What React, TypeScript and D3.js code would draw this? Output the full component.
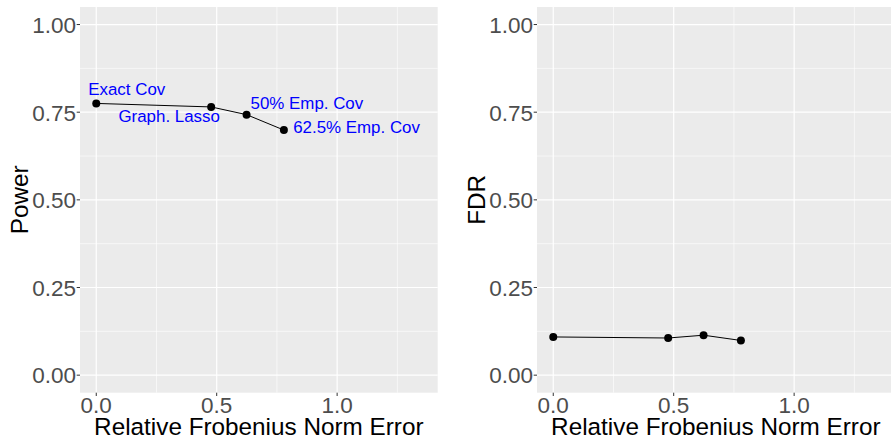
import React from "react";
import * as d3 from "d3";

const methods = ["Exact Cov", "Graph. Lasso", "50% Emp. Cov", "62.5% Emp. Cov"];
const frobError = [0, 0.477, 0.624, 0.779];
const power = [0.775, 0.765, 0.743, 0.699];
const fdr = [0.109, 0.106, 0.114, 0.099];
const xTicks = [0, 0.5, 1.0];
const xMinor = [0.25, 0.75, 1.25];
const yTicks = [0, 0.25, 0.5, 0.75, 1.0];
const yMinor = [0.125, 0.375, 0.625, 0.875];

// label placement (pixel offsets from point, anchor)
const labelDx = [-8, 8.7, 4, 9.3];
const labelDy = [-8.7, 15, -5.7, 2.7];
const labelAnchor = ["start", "end", "start", "start"];

const W = 891;
const H = 437;
const FONT = "'Liberation Sans', Arial, Helvetica, sans-serif";

const panelW = 357.7;
const panelTop = 7;
const panelBottom = 392.7;

function Panel({ left, values, title, showLabels }: { left: number; values: number[]; title: string; showLabels: boolean }) {
  const x = d3.scaleLinear().domain([-0.0675, 1.4175]).range([left, left + panelW]);
  const y = d3.scaleLinear().domain([-0.05, 1.05]).range([panelBottom, panelTop]);
  const pts = frobError.map((e, i) => [x(e), y(values[i])] as [number, number]);
  const line = d3.line()(pts) || "";
  const right = left + panelW;
  return (
    <g>
      <rect x={left} y={panelTop} width={panelW} height={panelBottom - panelTop} fill="#EBEBEB" />
      {yMinor.map((v) => (
        <line key={"ym" + v} x1={left} x2={right} y1={y(v)} y2={y(v)} stroke="#fff" strokeWidth={0.6} />
      ))}
      {xMinor.map((v) => (
        <line key={"xm" + v} x1={x(v)} x2={x(v)} y1={panelTop} y2={panelBottom} stroke="#fff" strokeWidth={0.6} />
      ))}
      {yTicks.map((v) => (
        <line key={"yM" + v} x1={left} x2={right} y1={y(v)} y2={y(v)} stroke="#fff" strokeWidth={1.2} />
      ))}
      {xTicks.map((v) => (
        <line key={"xM" + v} x1={x(v)} x2={x(v)} y1={panelTop} y2={panelBottom} stroke="#fff" strokeWidth={1.2} />
      ))}
      <path d={line} fill="none" stroke="#000" strokeWidth={1} />
      {pts.map((p, i) => (
        <circle key={"p" + i} cx={p[0]} cy={p[1]} r={4} fill="#000" />
      ))}
      {showLabels &&
        pts.map((p, i) => (
          <text
            key={"l" + i}
            x={p[0] + labelDx[i]}
            y={p[1] + labelDy[i]}
            textAnchor={labelAnchor[i] as any}
            fill="#0000FF"
            fontSize={16.9}
            fontFamily={FONT}
          >
            {methods[i]}
          </text>
        ))}
      {/* y axis */}
      {yTicks.map((v) => (
        <g key={"yt" + v}>
          <line x1={left - 3.3} x2={left} y1={y(v)} y2={y(v)} stroke="#333" strokeWidth={1} />
          <text x={left - 4} y={y(v)} dy="0.37em" textAnchor="end" fill="#4D4D4D" fontSize={22.5} fontFamily={FONT}>
            {d3.format(".2f")(v)}
          </text>
        </g>
      ))}
      {/* x axis */}
      {xTicks.map((v) => (
        <g key={"xt" + v}>
          <line x1={x(v)} x2={x(v)} y1={panelBottom} y2={panelBottom + 3.3} stroke="#333" strokeWidth={1} />
          <text x={x(v)} y={413} textAnchor="middle" fill="#4D4D4D" fontSize={22.5} fontFamily={FONT}>
            {d3.format(".1f")(v)}
          </text>
        </g>
      ))}
      <text x={left + panelW / 2} y={435} textAnchor="middle" fill="#000" fontSize={24.3} fontFamily={FONT}>
        Relative Frobenius Norm Error
      </text>
      <text
        transform={`translate(${left - 52},${(panelTop + panelBottom) / 2}) rotate(-90)`}
        textAnchor="middle"
        fill="#000"
        fontSize={24.3}
        fontFamily={FONT}
      >
        {title}
      </text>
    </g>
  );
}

export default function App() {
  return (
    <svg
      width={W}
      height={H}
      style={{ position: "fixed", left: 0, top: 0, background: "#fff" }}
      xmlns="http://www.w3.org/2000/svg"
    >
      <rect x={0} y={0} width={W} height={H} fill="#fff" />
      <Panel left={80} values={power} title="Power" showLabels={true} />
      <Panel left={537} values={fdr} title="FDR" showLabels={false} />
    </svg>
  );
}
